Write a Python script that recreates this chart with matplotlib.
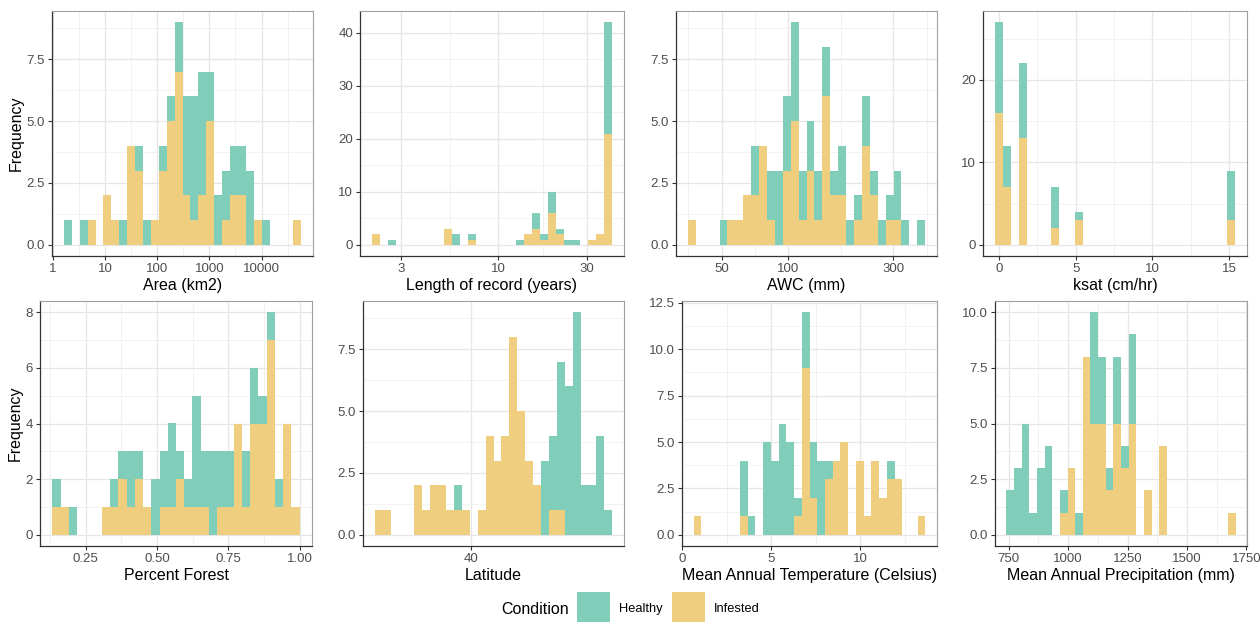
import numpy as np
import matplotlib
matplotlib.use("Agg")
import matplotlib.pyplot as plt
from matplotlib.patches import Rectangle
from matplotlib.ticker import FixedLocator, FixedFormatter, NullFormatter

plt.rcParams["font.family"] = ["Liberation Sans", "DejaVu Sans"]

# colours (ggplot fill with alpha on white)
HEALTHY = "#80CDBA"
INFESTED = "#F0CE80"

# --- counts per bin (30 bins each), infested stacked below healthy ---
area_inf = [0,0,0,1,0,2,1,0,4,3,0,1,3,5,7,2,1,2,5,0,1,2,2,0,1,0,0,0,0,1]
area_hea = [1,0,1,0,0,0,0,1,0,1,1,0,1,1,2,4,5,5,2,2,2,2,2,3,0,1,0,0,0,0]
length_inf = [2,0,0,0,0,0,0,0,0,3,0,0,1,0,0,0,0,0,0,2,3,1,6,2,0,0,0,1,2,21]
length_hea = [0,0,1,0,0,0,0,0,0,0,2,0,1,0,0,0,0,0,1,0,3,1,4,1,1,1,0,0,0,21]
awc_inf = [1,0,0,0,0,1,1,2,2,4,1,0,3,5,1,3,1,6,2,2,0,1,4,2,0,1,1,0,0,0]
awc_hea = [0,0,0,0,1,0,0,0,2,0,2,3,3,4,2,2,2,2,1,2,1,1,2,1,1,1,2,1,0,1]
ksat_inf = [16,7,0,13,0,0,0,2,0,0,3,0,0,0,0,0,0,0,0,0,0,0,0,0,0,0,0,0,0,3]
ksat_hea = [11,5,0,9,0,0,0,5,0,0,1,0,0,0,0,0,0,0,0,0,0,0,0,0,0,0,0,0,0,6]
forest_inf = [1,1,0,0,0,0,1,1,2,1,2,1,0,1,1,2,1,1,1,0,1,1,4,1,4,4,7,1,4,1]
forest_hea = [1,0,1,0,0,0,0,1,1,2,1,0,2,2,3,1,1,4,2,3,2,2,0,2,2,1,1,1,0,0]
lat_inf = [1,1,0,0,0,2,1,2,2,1,1,1,0,1,4,3,4,8,5,3,2,0,1,1,0,0,0,0,0,0]
lat_hea = [0,0,0,0,0,0,0,0,0,0,1,0,0,0,0,0,0,0,0,0,0,3,3,6,6,9,2,2,4,1]
temp_inf = [1,0,0,0,0,0,1,0,0,0,0,0,0,1,9,2,0,3,4,5,0,4,1,4,2,3,3,0,0,1]
temp_hea = [0,0,0,0,0,0,3,1,0,5,4,6,5,1,3,3,4,1,0,0,0,0,0,0,0,1,0,0,0,0]
precip_inf = [0,0,0,0,0,0,0,1,3,0,8,5,5,2,5,3,5,0,2,0,4,0,0,0,0,0,0,0,0,1]
precip_hea = [2,3,5,1,3,4,0,1,0,1,0,5,3,1,3,1,4,0,0,0,0,0,0,0,0,0,0,0,0,0]

# data ranges of the binned variables
area_range = (1.62, 57500)
length_range = (2.10, 40.7)
awc_range = (35.2, 418)
ksat_range = (-0.259, 15.378)
forest_range = (0.1332, 1.0)
lat_range = (34.6, 47.9)
temp_range = (0.64, 13.66)
precip_range = (740.2, 1704.7)

titles = ["Area (km2)", "Length of record (years)", "AWC (mm)", "ksat (cm/hr)",
          "Percent Forest", "Latitude", "Mean Annual Temperature (Celsius)",
          "Mean Annual Precipitation (mm)"]

panels = [
    dict(inf=area_inf, hea=area_hea, rng=area_range, log=True,
         xt=[1, 10, 100, 1000, 10000], xl=["1", "10", "100", "1000", "10000"],
         xm=[10**0.5, 10**1.5, 10**2.5, 10**3.5, 10**4.5],
         yt=[0, 2.5, 5, 7.5], yfmt="%.1f"),
    dict(inf=length_inf, hea=length_hea, rng=length_range, log=True,
         xt=[3, 10, 30], xl=["3", "10", "30"], xm=[5.48, 17.3],
         yt=[0, 10, 20, 30, 40], yfmt="%d"),
    dict(inf=awc_inf, hea=awc_hea, rng=awc_range, log=True,
         xt=[50, 100, 300], xl=["50", "100", "300"], xm=[35.4, 70.7, 173, 424],
         yt=[0, 2.5, 5, 7.5], yfmt="%.1f"),
    dict(inf=ksat_inf, hea=ksat_hea, rng=ksat_range, log=False,
         xt=[0, 5, 10, 15], xl=["0", "5", "10", "15"], xm=[2.5, 7.5, 12.5],
         yt=[0, 10, 20], yfmt="%d"),
    dict(inf=forest_inf, hea=forest_hea, rng=forest_range, log=False,
         xt=[0.25, 0.5, 0.75, 1.0], xl=["0.25", "0.50", "0.75", "1.00"],
         xm=[0.125, 0.375, 0.625, 0.875],
         yt=[0, 2, 4, 6, 8], yfmt="%d"),
    dict(inf=lat_inf, hea=lat_hea, rng=lat_range, log=False,
         xt=[40], xl=["40"], xm=[],
         yt=[0, 2.5, 5, 7.5], yfmt="%.1f"),
    dict(inf=temp_inf, hea=temp_hea, rng=temp_range, log=False,
         xt=[0, 5, 10], xl=["0", "5", "10"], xm=[2.5, 7.5, 12.5],
         yt=[0, 2.5, 5, 7.5, 10, 12.5], yfmt="%.1f"),
    dict(inf=precip_inf, hea=precip_hea, rng=precip_range, log=False,
         xt=[750, 1000, 1250, 1500, 1750], xl=["750", "1000", "1250", "1500", "1750"],
         xm=[875, 1125, 1375, 1625],
         yt=[0, 2.5, 5, 7.5, 10], yfmt="%.1f"),
]

W, H = 1260, 622
fig = plt.figure(figsize=(W / 100, H / 100), dpi=100)

# panel boxes in pixels: left, top, right, bottom
boxes = [(52, 11, 313, 256), (360, 11, 624, 256), (676, 11, 937, 256), (983, 11, 1247, 256),
         (40, 301, 312, 546), (363, 301, 624, 546), (682, 301, 937, 546), (995, 301, 1247, 546)]

for i, (p, box) in enumerate(zip(panels, boxes)):
    l, t, r, b = box
    ax = fig.add_axes([l / W, 1 - b / H, (r - l) / W, (b - t) / H])
    inf = np.array(p["inf"])
    hea = np.array(p["hea"])
    lo, hi = p["rng"]
    if p["log"]:
        ax.set_xscale("log")
        edges = np.geomspace(lo, hi, 31)
        span = np.log10(hi) - np.log10(lo)
        ax.set_xlim(10**(np.log10(lo) - 0.05 * span), 10**(np.log10(hi) + 0.05 * span))
    else:
        edges = np.linspace(lo, hi, 31)
        span = hi - lo
        ax.set_xlim(lo - 0.05 * span, hi + 0.05 * span)
    ax.bar(edges[:-1], inf, width=np.diff(edges), align="edge", color=INFESTED,
           linewidth=0, zorder=2)
    ax.bar(edges[:-1], hea, width=np.diff(edges), align="edge", bottom=inf,
           color=HEALTHY, linewidth=0, zorder=2)
    top = (inf + hea).max()
    ax.set_ylim(-0.05 * top, 1.05 * top)

    ax.xaxis.set_major_locator(FixedLocator(p["xt"]))
    ax.xaxis.set_major_formatter(FixedFormatter(p["xl"]))
    ax.xaxis.set_minor_locator(FixedLocator(p["xm"]))
    ax.xaxis.set_minor_formatter(NullFormatter())
    yt = p["yt"]
    ym = [v + (yt[1] - yt[0]) / 2 for v in yt]
    ax.yaxis.set_major_locator(FixedLocator(yt))
    ax.yaxis.set_major_formatter(FixedFormatter([p["yfmt"] % v for v in yt]))
    ax.yaxis.set_minor_locator(FixedLocator(ym))

    ax.grid(True, which="major", color="#E6E6E6", linewidth=0.9, zorder=0)
    ax.grid(True, which="minor", color="#F0F0F0", linewidth=0.6, zorder=0)
    ax.set_axisbelow(True)
    ax.tick_params(which="major", length=3, width=0.8, color="#333333",
                   labelsize=9.5, labelcolor="#4D4D4D", pad=2)
    ax.tick_params(which="minor", length=0)
    for side in ["left", "bottom"]:
        ax.spines[side].set_color("#333333")
        ax.spines[side].set_linewidth(0.9)
    for side in ["top", "right"]:
        ax.spines[side].set_color("#A0A0A0")
        ax.spines[side].set_linewidth(0.8)
    ax.set_xlabel(titles[i], fontsize=11.5, labelpad=2, color="black")
    if i in (0, 4):
        ax.set_ylabel("Frequency", fontsize=11.5, labelpad=2, color="black")

# legend at the bottom
fig.text(501 / W, 1 - 609 / H, "Condition", fontsize=11.5, va="center", ha="left")
for x0, col, lab in [(577, HEALTHY, "Healthy"), (672, INFESTED, "Infested")]:
    fig.patches.append(Rectangle((x0 / W, 1 - 622 / H), 33 / W, 30 / H,
                                 transform=fig.transFigure, color=col, linewidth=0))
    fig.text((x0 + 42) / W, 1 - 609 / H, lab, fontsize=9.3, va="center", ha="left")

plt.savefig("out.png", dpi=100)
